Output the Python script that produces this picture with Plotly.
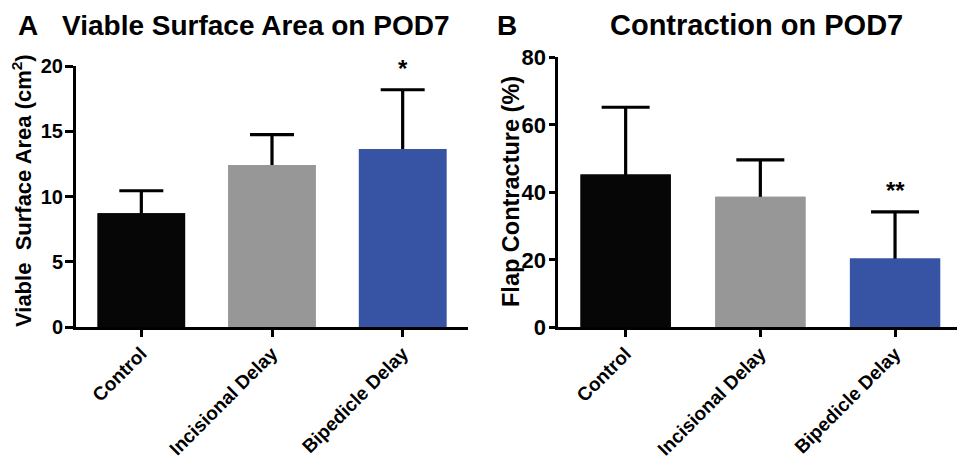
import plotly.graph_objects as go

categories = ["Control", "Incisional Delay", "Bipedicle Delay"]
area_mean = [8.71, 12.41, 13.64]
area_sd = [1.73, 2.33, 4.54]
contr_mean = [45.3, 38.7, 20.4]
contr_sd = [19.9, 10.9, 13.8]
area_sig = ["", "", "*"]
contr_sig = ["", "", "**"]
colors = ["#060606", "#979797", "#3753a4"]

FONT = "Liberation Sans, Arial, Helvetica, sans-serif"
W, H = 957, 462
xpos = list(range(len(categories)))

fig = go.Figure()
# bars with symmetric error bars; an identical bar drawn on top hides the lower half
for xa, ya, mean, sd, cap in [("x", "y", area_mean, area_sd, 22),
                              ("x2", "y2", contr_mean, contr_sd, 24)]:
    fig.add_trace(go.Bar(
        x=xpos, y=mean, width=0.67, marker=dict(color=colors, line=dict(width=0)),
        error_y=dict(type="data", array=sd, color="#000", thickness=3.2, width=cap),
        xaxis=xa, yaxis=ya, showlegend=False, hoverinfo="skip"))
    fig.add_trace(go.Bar(
        x=xpos, y=mean, width=0.67, marker=dict(color=colors, line=dict(width=0)),
        xaxis=xa, yaxis=ya, showlegend=False))

def axis_style(size, ticklen=7, standoff=0):
    return dict(showline=True, linecolor="#000", linewidth=3, ticks="outside",
                tickcolor="#000", tickwidth=2.7, ticklen=ticklen, showgrid=False,
                zeroline=False, automargin=False, ticklabelstandoff=standoff,
                tickfont=dict(family=FONT, size=size, color="#000", weight="bold"))

fig.update_layout(
    width=W, height=H, margin=dict(l=0, r=0, t=0, b=0, pad=0), barmode="overlay",
    plot_bgcolor="white", paper_bgcolor="white",
    xaxis=dict(domain=[76/W, 468/W], range=[-0.5, 2.5], tickmode="array",
               tickvals=xpos, ticktext=categories, tickangle=-45, anchor="y",
               **axis_style(19, 7, -2)),
    yaxis=dict(domain=[1-327/H, 1-66/H], range=[0, 20], tickvals=[0, 5, 10, 15, 20],
               anchor="x", **axis_style(20, 8, -2)),
    xaxis2=dict(domain=[558.3/W, 1.0], range=[-0.5, 2.46], tickmode="array",
                tickvals=xpos, ticktext=categories, tickangle=-45, anchor="y2",
                **axis_style(19, 7, -2)),
    yaxis2=dict(domain=[1-327.3/H, 1-57.3/H], range=[0, 80], tickvals=[0, 20, 40, 60, 80],
                anchor="x2", **axis_style(22, 6, -1)),
)

ann = []
def txt(x, y, s, size, angle=0):
    ann.append(dict(x=x, y=y, xref="paper", yref="paper", text=s, showarrow=False,
                    font=dict(family=FONT, size=size, color="#000", weight="bold"),
                    textangle=angle, xanchor="center", yanchor="middle"))

txt(27.5/W, 1-25/H, "A", 28)
txt(255.5/W, 1-25/H, "Viable Surface Area on POD7", 28)
txt(507/W, 1-25/H, "B", 28)
txt(756.5/W, 1-25/H, "Contraction on POD7", 29)
txt(22/W, 1-191/H, "Viable  Surface Area (cm<sup>2</sup>)", 22, -90)
txt(511/W, 1-192/H, "Flap Contracture (%)", 23.5, -90)
fig.update_layout(annotations=ann)

for i, s in enumerate(area_sig):
    if s:
        fig.add_annotation(x=i, y=area_mean[i]+area_sd[i], xref="x", yref="y", text=s,
                           showarrow=False, yanchor="bottom", yshift=6,
                           font=dict(family=FONT, size=24, color="#000", weight="bold"))
for i, s in enumerate(contr_sig):
    if s:
        fig.add_annotation(x=i, y=contr_mean[i]+contr_sd[i], xref="x2", yref="y2", text=s,
                           showarrow=False, yanchor="bottom", yshift=6,
                           font=dict(family=FONT, size=24, color="#000", weight="bold"))

fig.write_html("out.html", config={"displayModeBar": False},
               post_script="document.body.style.margin='0';document.body.style.overflow='hidden';")
